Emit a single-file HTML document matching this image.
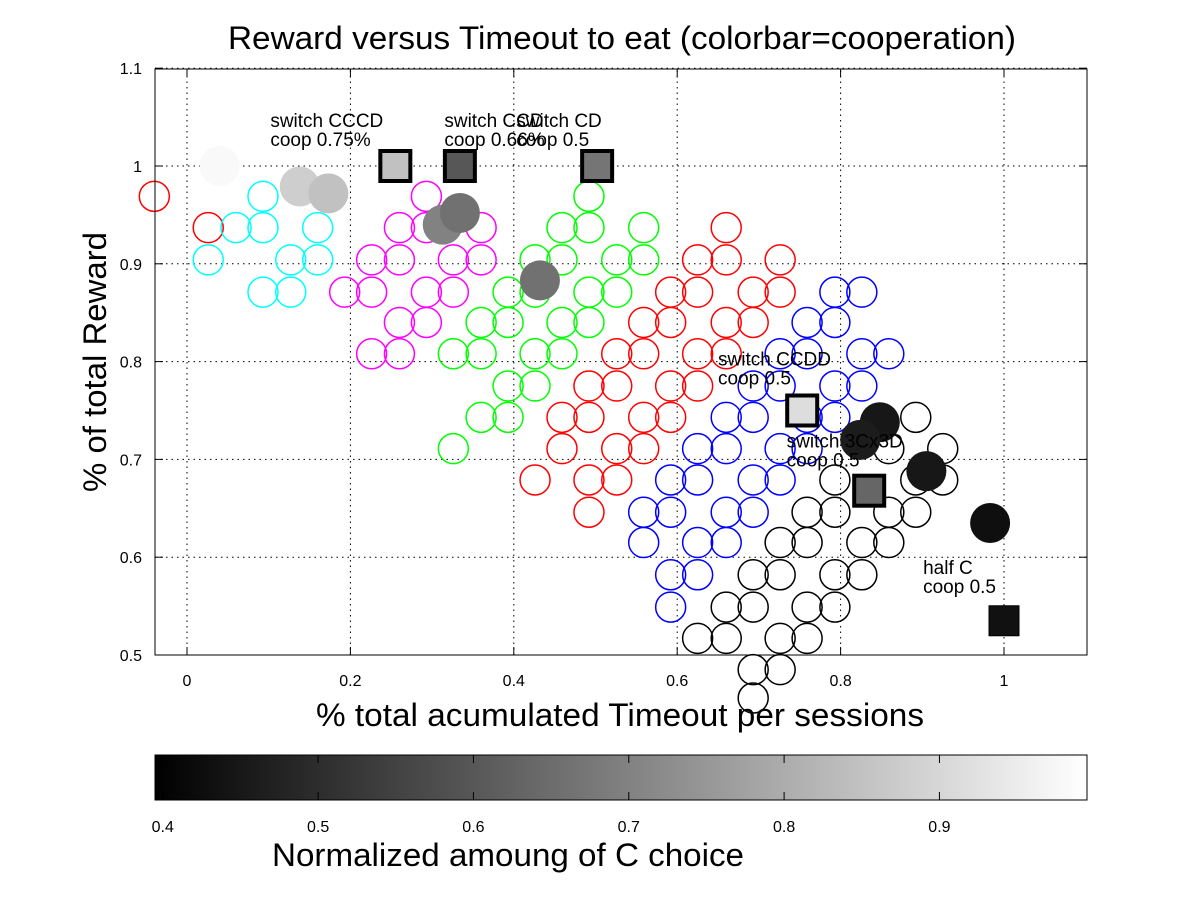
<!DOCTYPE html>
<html><head><meta charset="utf-8"><style>
body{margin:0;background:#fff;}
svg{display:block;font-family:"Liberation Sans",sans-serif;}
</style></head><body>
<svg id="chart" width="1200" height="902" viewBox="0 0 1200 902" xmlns="http://www.w3.org/2000/svg">
<rect x="0" y="0" width="1200" height="902" fill="#fff"/>
<text x="622" y="49" font-size="32" text-anchor="middle" textLength="788" lengthAdjust="spacingAndGlyphs">Reward versus Timeout to eat (colorbar=cooperation)</text>
<g id="grid"></g>
<g id="marks"></g>
<g id="labels"></g>
<rect x="155" y="69" width="932" height="586" fill="none" stroke="#000" stroke-width="1"/>
<g id="ticks"></g>
<text x="620" y="726" font-size="32" text-anchor="middle" textLength="608" lengthAdjust="spacingAndGlyphs">% total acumulated Timeout per sessions</text>
<text x="0" y="0" font-size="32" text-anchor="middle" textLength="260" lengthAdjust="spacingAndGlyphs" transform="translate(106,362) rotate(-90)">% of total Reward</text>
<defs><linearGradient id="cg" x1="0" x2="1" y1="0" y2="0"><stop offset="0" stop-color="#000"/><stop offset="1" stop-color="#fff"/></linearGradient></defs>
<rect x="155" y="755" width="932" height="45" fill="url(#cg)" stroke="#000"/>
<g id="cbticks"></g>
<text x="508" y="866" font-size="32" text-anchor="middle" textLength="472" lengthAdjust="spacingAndGlyphs">Normalized amoung of C choice</text>
</svg>
<script>
const xTicks=[0,0.2,0.4,0.6,0.8,1];
const xTickLabels=["0","0.2","0.4","0.6","0.8","1"];
const yTicks=[0.5,0.6,0.7,0.8,0.9,1.0,1.1];
const yTickLabels=["0.5","0.6","0.7","0.8","0.9","1","1.1"];
const cbTicks=[0.4,0.5,0.6,0.7,0.8,0.9];
const cbTickLabels=["0.4","0.5","0.6","0.7","0.8","0.9"];

const redLeftX=[-0.04,0.026];
const redLeftY=[0.969,0.937];
const cyanX=[0.093,0.06,0.093,0.16,0.026,0.127,0.16,0.093,0.127];
const cyanY=[0.969,0.937,0.937,0.937,0.904,0.904,0.904,0.871,0.871];
const magentaX=[0.293,0.26,0.293,0.36,0.226,0.26,0.326,0.36,0.193,0.226,0.293,0.326,0.26,0.293,0.226,0.26];
const magentaY=[0.969,0.937,0.937,0.937,0.904,0.904,0.904,0.904,0.871,0.871,0.871,0.871,0.84,0.84,0.808,0.808];
const greenX=[0.492,0.459,0.492,0.559,0.426,0.459,0.526,0.559,0.393,0.426,0.492,0.526,0.36,0.393,0.459,0.492,0.326,0.36,0.426,0.459,0.393,0.426,0.36,0.393,0.326];
const greenY=[0.969,0.937,0.937,0.937,0.904,0.904,0.904,0.904,0.871,0.871,0.871,0.871,0.84,0.84,0.84,0.84,0.808,0.808,0.808,0.808,0.775,0.775,0.743,0.743,0.711];
const redX=[0.66,0.625,0.66,0.726,0.592,0.625,0.693,0.726,0.559,0.592,0.66,0.693,0.526,0.559,0.625,0.66,0.492,0.526,0.592,0.625,0.459,0.492,0.559,0.592,0.459,0.526,0.559,0.426,0.492,0.526,0.492];
const redY=[0.937,0.904,0.904,0.904,0.871,0.871,0.871,0.871,0.84,0.84,0.84,0.84,0.808,0.808,0.808,0.808,0.775,0.775,0.775,0.775,0.743,0.743,0.743,0.743,0.711,0.711,0.711,0.679,0.679,0.679,0.646];
const blueX=[0.793,0.826,0.759,0.793,0.726,0.759,0.826,0.859,0.693,0.726,0.793,0.826,0.66,0.693,0.759,0.793,0.625,0.66,0.726,0.759,0.592,0.625,0.693,0.726,0.559,0.592,0.66,0.693,0.559,0.625,0.66,0.592,0.625,0.592];
const blueY=[0.871,0.871,0.84,0.84,0.808,0.808,0.808,0.808,0.775,0.775,0.775,0.775,0.743,0.743,0.743,0.743,0.711,0.711,0.711,0.711,0.679,0.679,0.679,0.679,0.646,0.646,0.646,0.646,0.615,0.615,0.615,0.582,0.582,0.549];
const blackX=[0.892,0.925,0.859,0.793,0.892,0.925,0.759,0.793,0.859,0.892,0.726,0.759,0.826,0.859,0.693,0.726,0.793,0.826,0.66,0.693,0.759,0.793,0.625,0.66,0.726,0.759,0.693,0.726,0.693];
const blackY=[0.743,0.711,0.711,0.679,0.679,0.679,0.646,0.646,0.646,0.646,0.615,0.615,0.615,0.615,0.582,0.582,0.582,0.582,0.549,0.549,0.549,0.549,0.517,0.517,0.517,0.517,0.485,0.485,0.456];
const filledX=[0.04,0.138,0.173,0.313,0.334,0.432,0.848,0.824,0.905,0.983];
const filledY=[1.0,0.979,0.972,0.94,0.952,0.883,0.738,0.72,0.688,0.635];
const filledCoop=[0.98,0.88,0.85,0.70,0.66,0.66,0.45,0.46,0.45,0.43];
const squareX=[0.255,0.334,0.502,0.753,0.835,1.0];
const squareY=[1.0,1.0,1.0,0.75,0.668,0.535];
const squareCoop=[0.85,0.60,0.67,0.915,0.635,0.435];
const annotLine1=["switch CCCD","switch CCD","switch CD","switch CCDD","switch 3Cx3D","half C"];
const annotLine2=["coop 0.75%","coop 0.66%","coop 0.5","coop 0.5","coop 0.5","coop 0.5"];
const annotX=[0.102,0.315,0.403,0.65,0.734,0.901];
const annotY=[1.04,1.04,1.04,0.796,0.712,0.583];

const NS="http://www.w3.org/2000/svg";
const X0=155,X1=1087,Y0=655,Y1=69;
function sx(v){return 187+v*817;}
function sy(v){return 166+(1-v)*978;}
function cbx(v){return 155+(v-0.395)/0.6*932;}
function gray(c){let g=Math.round(Math.max(0,Math.min(1,(c-0.395)/0.6))*255);return `rgb(${g},${g},${g})`;}
function mk(tag,attrs,parent){const e=document.createElementNS(NS,tag);for(const k in attrs)e.setAttribute(k,attrs[k]);parent.appendChild(e);return e;}
const grid=document.getElementById('grid'),marks=document.getElementById('marks'),ticks=document.getElementById('ticks'),labels=document.getElementById('labels'),cbt=document.getElementById('cbticks');

xTicks.forEach((v,i)=>{
  const x=sx(v);
  const g=mk('line',{x1:x,x2:x,y1:Y0,y2:Y1,stroke:'#000','stroke-dasharray':'1.5,4'},grid);
  
  
  mk('line',{x1:x,x2:x,y1:Y0,y2:Y0-8,stroke:'#000'},ticks);
  mk('line',{x1:x,x2:x,y1:Y1,y2:Y1+8,stroke:'#000'},ticks);
  const t=mk('text',{x:x,y:686,'font-size':16,'text-anchor':'middle'},ticks);
  t.textContent=xTickLabels[i];
  
  
});
yTicks.forEach((v,i)=>{
  const y=sy(v);
  const g=mk('line',{x1:X0,x2:X1,y1:y,y2:y,stroke:'#000','stroke-dasharray':'1.5,4'},grid);
  
  
  mk('line',{x1:X0,x2:X0+8,y1:y,y2:y,stroke:'#000'},ticks);
  mk('line',{x1:X1,x2:X1-8,y1:y,y2:y,stroke:'#000'},ticks);
  const t=mk('text',{x:142,y:y+6,'font-size':16,'text-anchor':'end'},ticks);
  t.textContent=yTickLabels[i];
  
  
});
cbTicks.forEach((v,i)=>{
  const x=cbx(v);
  mk('line',{x1:x,x2:x,y1:800,y2:792,stroke:'#000'},cbt);
  mk('line',{x1:x,x2:x,y1:755,y2:763,stroke:'#000'},cbt);
  const t=mk('text',{x:x,y:832,'font-size':16,'text-anchor':'middle'},cbt);
  t.textContent=cbTickLabels[i];
  
  
});
function openSeries(xs,ys,color,name){
  xs.forEach((v,i)=>{
    const c=mk('circle',{cx:sx(v),cy:sy(ys[i]),r:15,fill:'none',stroke:color,'stroke-width':1.5},marks);
    
    
  });
}
openSeries(redLeftX,redLeftY,'#f00','red-point');
openSeries(cyanX,cyanY,'#0ff','cyan-point');
openSeries(magentaX,magentaY,'#f0f','magenta-point');
openSeries(greenX,greenY,'#0f0','green-point');
openSeries(redX,redY,'#f00','red-point');
openSeries(blueX,blueY,'#00f','blue-point');
openSeries(blackX,blackY,'#000','black-point');
filledX.forEach((v,i)=>{
  const c=mk('circle',{cx:sx(v),cy:sy(filledY[i]),r:20,fill:gray(filledCoop[i])},marks);
  
  
});
squareX.forEach((v,i)=>{
  const last=i===squareX.length-1;
  const s=mk('rect',{x:sx(v)-15,y:sy(squareY[i])-15,width:30,height:30,fill:gray(squareCoop[i]),stroke:'#000','stroke-width':last?1:4},marks);
  
  
});
annotLine1.forEach((s,i)=>{
  const x=sx(annotX[i]),y=sy(annotY[i]);
  const t=mk('text',{x:x,y:y,'font-size':19},labels);
  t.textContent=s;
  
  
  const t2=mk('text',{x:x,y:y+19,'font-size':19},labels);
  t2.textContent=annotLine2[i];
  
  
});
</script>
</body></html>
